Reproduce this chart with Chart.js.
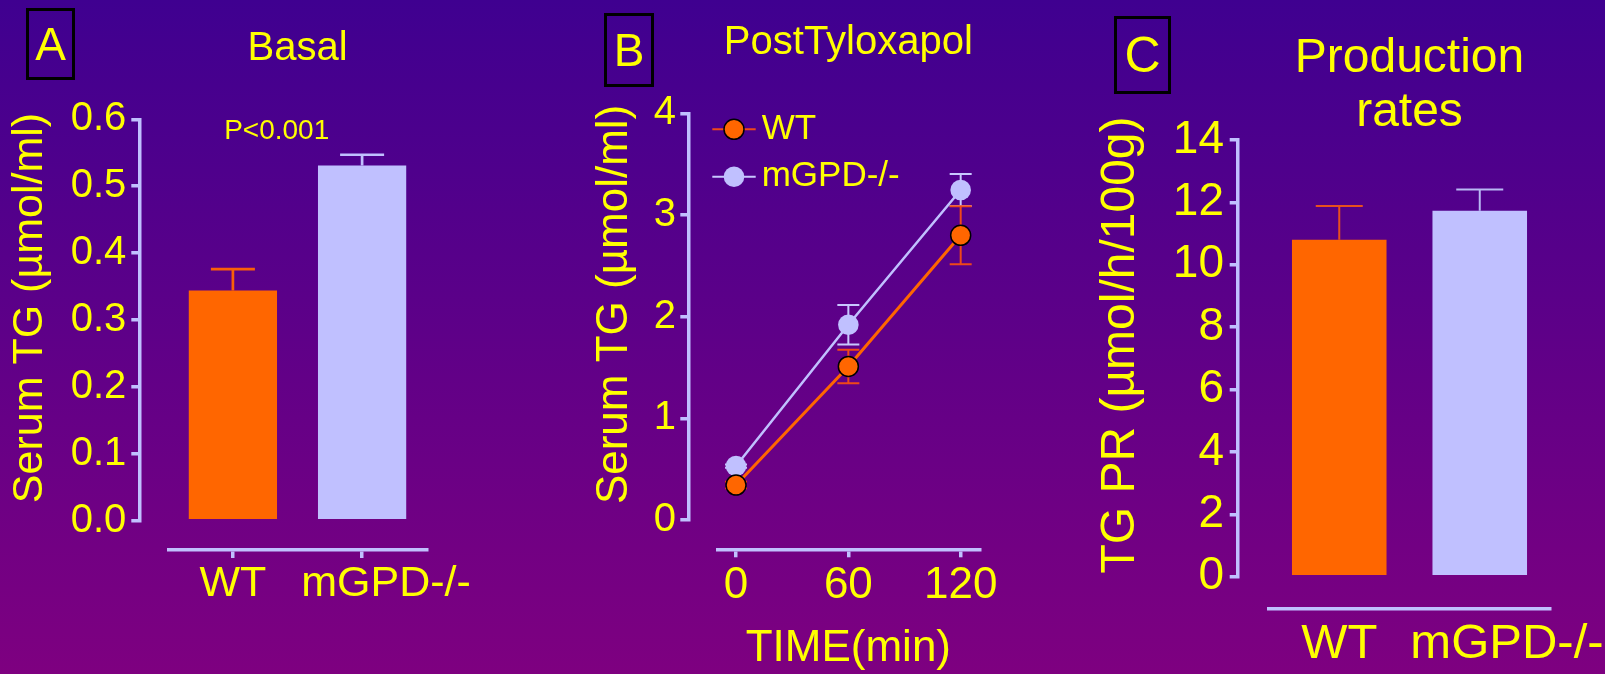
<!DOCTYPE html>
<html>
<head>
<meta charset="utf-8">
<title>Serum TG and TG production</title>
<script src="https://cdn.jsdelivr.net/npm/chart.js@4.4.1/dist/chart.umd.min.js"></script>
<style>
  body { margin: 0; }
  #page {
    position: relative;
    width: 1605px;
    height: 674px;
    overflow: hidden;
    background: linear-gradient(to bottom, #3f0090, #7e0080);
    font-family: 'Liberation Sans', Arial, sans-serif;
  }
  #page canvas { position: absolute; left: 0; top: 0; }
  .tag {
    position: absolute;
    box-sizing: border-box;
    border: 3.5px solid #000;
    color: #ffff00;
    display: flex;
    align-items: center;
    justify-content: center;
  }
</style>
</head>
<body>
<div id="page">
  <canvas id="basal" width="1605" height="674"></canvas>
  <canvas id="tylox" width="1605" height="674"></canvas>
  <canvas id="prod" width="1605" height="674"></canvas>
  <div class="tag" style="left:26px;top:8px;width:49px;height:72px;font-size:46px">A</div>
  <div class="tag" style="left:604px;top:13px;width:50px;height:74px;font-size:46px">B</div>
  <div class="tag" style="left:1114px;top:16px;width:57px;height:78px;font-size:50px">C</div>
</div>
<script>
// basal serum TG
const groups = ['WT', 'mGPD-/-'];
const basalTG = [0.344, 0.531];
const basalSEM = [0.032, 0.016];
const basalTicks = [0, 0.1, 0.2, 0.3, 0.4, 0.5, 0.6];

// serum TG after tyloxapol
const minutes = [0, 60, 120];
const wtTG = [0.344, 1.51, 2.80];
const wtSEM = [0.032, 0.165, 0.285];
const koTG = [0.531, 1.92, 3.245];
const koSEM = [0.016, 0.195, 0.157];
const tgTicks = [0, 1, 2, 3, 4];

// TG production rates
const prodRate = [10.8, 11.73];
const prodSEM = [1.085, 0.68];
const prodTicks = [0, 2, 4, 6, 8, 10, 12, 14];

const YELLOW = '#ffff00';
const ORANGE = '#ff6600';
const LAVENDER = '#c0c0ff';
const AXIS = '#c0c0ff';
const FONT = "'Liberation Sans', Arial, sans-serif";

Chart.defaults.font.family = FONT;
Chart.defaults.color = YELLOW;
Chart.defaults.animation = false;

// pull the y axis left and the x axis down so they don't meet in the corner
const splitAxes = {
  id: 'splitAxes',
  afterLayout(chart, args, opts) {
    const {x, y} = chart.scales;
    y.left -= opts.dx;
    y.right -= opts.dx;
    x.top += opts.dy;
    x.bottom += opts.dy;
  }
};

// mean + SEM whiskers (both ways when opts.both)
const errorBars = {
  id: 'errorBars',
  beforeDatasetsDraw(chart, args, opts) {
    const ctx = chart.ctx;
    const yScale = chart.scales.y;
    const half = opts.capWidth / 2;
    for (let d = chart.data.datasets.length - 1; d >= 0; d--) {
      const ds = chart.data.datasets[d];
      const meta = chart.getDatasetMeta(d);
      ctx.save();
      ctx.lineWidth = opts.lineWidth;
      meta.data.forEach((el, i) => {
        const raw = ds.data[i];
        const v = typeof raw === 'object' ? raw.y : raw;
        const top = yScale.getPixelForValue(v + ds.errors[i]);
        const bottom = opts.both ? yScale.getPixelForValue(v - ds.errors[i]) : el.y;
        ctx.strokeStyle = Array.isArray(ds.errorColor) ? ds.errorColor[i] : ds.errorColor;
        ctx.beginPath();
        ctx.moveTo(el.x, bottom);
        ctx.lineTo(el.x, top);
        ctx.moveTo(el.x - half, top);
        ctx.lineTo(el.x + half, top);
        if (opts.both) {
          ctx.moveTo(el.x - half, bottom);
          ctx.lineTo(el.x + half, bottom);
        }
        ctx.stroke();
      });
      ctx.restore();
    }
  }
};

const note = {
  id: 'note',
  afterDraw(chart, args, opts) {
    const ctx = chart.ctx;
    ctx.save();
    ctx.font = opts.size + 'px ' + FONT;
    ctx.fillStyle = YELLOW;
    ctx.textAlign = 'center';
    ctx.textBaseline = 'middle';
    ctx.fillText(opts.text, opts.x, opts.y);
    ctx.restore();
  }
};

// legend rows drawn as line + marker, like the series themselves
const lineLegend = {
  id: 'lineLegend',
  afterDraw(chart, args, opts) {
    const ctx = chart.ctx;
    ctx.save();
    ctx.font = opts.size + 'px ' + FONT;
    ctx.textBaseline = 'middle';
    chart.data.datasets.forEach((ds, i) => {
      const y = opts.y + i * opts.rowGap;
      const cx = opts.x + opts.lineLength / 2;
      ctx.strokeStyle = ds.errorColor;
      ctx.lineWidth = 2;
      ctx.beginPath();
      ctx.moveTo(opts.x, y);
      ctx.lineTo(opts.x + opts.lineLength, y);
      ctx.stroke();
      ctx.beginPath();
      ctx.arc(cx, y, ds.pointRadius, 0, Math.PI * 2);
      ctx.fillStyle = ds.pointBackgroundColor;
      ctx.fill();
      if (ds.pointBorderWidth) {
        ctx.lineWidth = ds.pointBorderWidth;
        ctx.strokeStyle = ds.pointBorderColor;
        ctx.stroke();
      }
      ctx.fillStyle = YELLOW;
      ctx.fillText(ds.label, opts.x + opts.lineLength + opts.gap, y);
    });
    ctx.restore();
  }
};

function valueAxis(ticks, size, pad, width, title, titleSize, fmt) {
  const axis = {
    min: ticks[0],
    max: ticks[ticks.length - 1],
    afterBuildTicks: s => { s.ticks = ticks.map(v => ({value: v})); },
    afterFit: s => {
      s.width = width;
      s.paddingTop = s.paddingBottom = 0;
    },
    grid: {drawOnChartArea: false, tickLength: 8, color: AXIS, lineWidth: 3.5},
    border: {color: AXIS, width: 3.5},
    ticks: {color: YELLOW, font: {size: size}, padding: pad},
    title: {display: true, text: title, color: YELLOW, font: {size: titleSize}, padding: 0}
  };
  if (fmt) axis.ticks.callback = fmt;
  return axis;
}

function groupAxis(size, pad, ticksOn) {
  return {
    afterFit: s => {
      s.height = 60;
      s.paddingLeft = s.paddingRight = 0;
    },
    grid: {offset: false, drawOnChartArea: false, drawTicks: ticksOn, tickLength: 8, color: AXIS, lineWidth: 3.5},
    border: {color: AXIS, width: 3.5},
    ticks: {
      color: YELLOW, font: {size: size}, padding: pad,
      maxRotation: 0, minRotation: 0, autoSkip: false,
      callback(v, i) {
        const s = this.getLabelForValue(v);
        return i === 1 ? '    ' + s : s;
      }
    }
  };
}

function chartTitle(text, size, lineHeight, bottom) {
  return {
    display: true, text: text, color: YELLOW, fullSize: false,
    font: {size: size, weight: 'normal', lineHeight: lineHeight},
    padding: {top: 0, bottom: bottom}
  };
}

new Chart(document.getElementById('basal'), {
  type: 'bar',
  data: {
    labels: groups,
    datasets: [{
      data: basalTG,
      errors: basalSEM,
      backgroundColor: [ORANGE, LAVENDER],
      errorColor: ['#fa6008', LAVENDER],
      barPercentage: 0.683,
      categoryPercentage: 1
    }]
  },
  options: {
    responsive: false,
    events: [],
    layout: {padding: {left: 33.2, right: 1178.3, top: 25.2, bottom: 93.3}},
    plugins: {
      legend: {display: false},
      tooltip: {enabled: false},
      title: chartTitle('Basal', 40, 1.2, 46.1),
      splitAxes: {dx: 29, dy: 29.3},
      errorBars: {capWidth: 44, lineWidth: 2.7, both: false},
      note: {text: 'P<0.001', x: 276.7, y: 131.7, size: 28}
    },
    scales: {
      x: groupAxis(43, 0, true),
      y: valueAxis(basalTicks, 40, 5, 135.1, '  Serum TG (\u00b5mol/ml)', 43, v => v.toFixed(1))
    }
  },
  plugins: [splitAxes, errorBars, note]
});

const timeAxis = {
  type: 'linear',
  min: -10,
  max: 130,
  afterBuildTicks: s => { s.ticks = minutes.map(v => ({value: v})); },
  afterFit: s => {
    s.height = 126.3;
    s.paddingLeft = s.paddingRight = 0;
  },
  grid: {drawOnChartArea: false, tickLength: 8, color: AXIS, lineWidth: 3.5},
  border: {color: AXIS, width: 3.5},
  ticks: {color: YELLOW, font: {size: 44}, padding: 2.1, maxRotation: 0, autoSkip: false},
  title: {display: true, text: 'TIME(min)', color: YELLOW, font: {size: 44}, padding: 0}
};

new Chart(document.getElementById('tylox'), {
  type: 'line',
  data: {
    datasets: [{
      label: 'WT',
      data: minutes.map((m, i) => ({x: m, y: wtTG[i]})),
      errors: wtSEM,
      borderColor: ORANGE,
      borderWidth: 3,
      pointRadius: 10,
      pointBackgroundColor: ORANGE,
      pointBorderColor: '#000',
      pointBorderWidth: 1.5,
      errorColor: '#f04818',
      tension: 0
    }, {
      label: 'mGPD-/-',
      data: minutes.map((m, i) => ({x: m, y: koTG[i]})),
      errors: koSEM,
      borderColor: LAVENDER,
      borderWidth: 2.5,
      pointRadius: 10.3,
      pointBackgroundColor: LAVENDER,
      pointBorderColor: LAVENDER,
      pointBorderWidth: 0,
      errorColor: '#c8c8ff',
      tension: 0
    }]
  },
  options: {
    responsive: false,
    events: [],
    layout: {padding: {left: 617.6, right: 625.6, top: 18.5, bottom: 27.7}},
    plugins: {
      legend: {display: false},
      tooltip: {enabled: false},
      title: chartTitle('PostTyloxapol', 40, 1.2, 46.8),
      splitAxes: {dx: 29, dy: 29.3},
      errorBars: {capWidth: 22, lineWidth: 2, both: true},
      lineLegend: {x: 712.3, y: 129.3, rowGap: 47.4, lineLength: 43.4, gap: 6, size: 35}
    },
    scales: {
      x: timeAxis,
      y: valueAxis(tgTicks, 40, 4.3, 99.7, '  Serum TG (\u00b5mol/ml)', 44)
    }
  },
  plugins: [splitAxes, errorBars, lineLegend]
});

new Chart(document.getElementById('prod'), {
  type: 'bar',
  data: {
    labels: groups,
    datasets: [{
      data: prodRate,
      errors: prodSEM,
      backgroundColor: [ORANGE, LAVENDER],
      errorColor: ['#e8501e', '#b8b8f4'],
      barPercentage: 0.673,
      categoryPercentage: 1
    }]
  },
  options: {
    responsive: false,
    events: [],
    layout: {padding: {left: 1123, right: 55, top: 31.8, bottom: 37.3}},
    plugins: {
      legend: {display: false},
      tooltip: {enabled: false},
      title: chartTitle(['Production', 'rates'], 48, 1.125, 0.2),
      splitAxes: {dx: 31.3, dy: 31.6},
      errorBars: {capWidth: 47, lineWidth: 2, both: false}
    },
    scales: {
      x: groupAxis(49, 6.5, false),
      y: valueAxis(prodTicks, 46, 5.7, 146, '  TG PR (\u00b5mol/h/100g)', 48)
    }
  },
  plugins: [splitAxes, errorBars]
});
</script>
</body>
</html>
